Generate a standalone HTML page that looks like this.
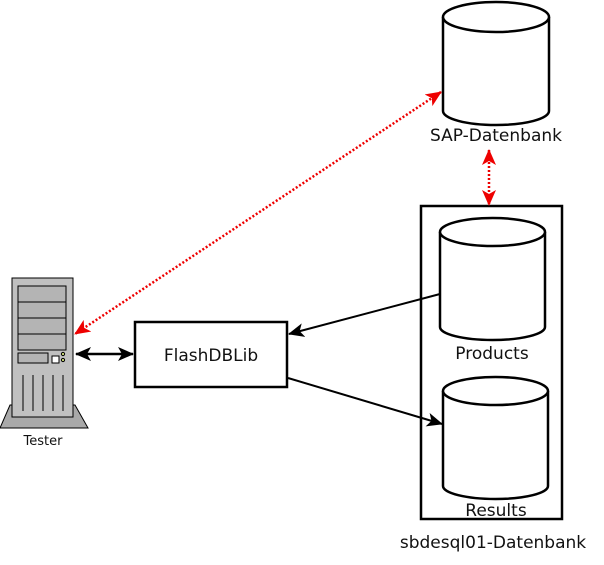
<!DOCTYPE html>
<html><head><style>html,body{margin:0;padding:0;background:#fff;width:604px;height:565px;overflow:hidden}</style></head>
<body>
<svg width="604" height="565" xmlns="http://www.w3.org/2000/svg" font-family="'DejaVu Sans', 'Liberation Sans', sans-serif">
<defs>
<marker id="ab" markerWidth="16" markerHeight="14" refX="15" refY="7" orient="auto" markerUnits="userSpaceOnUse"><path d="M0,0 L16,7 L0,14 L4,7 z" fill="#000"/></marker>
<marker id="abs" markerWidth="16" markerHeight="14" refX="1" refY="7" orient="auto" markerUnits="userSpaceOnUse"><path d="M16,0 L0,7 L16,14 L12,7 z" fill="#000"/></marker>
<marker id="ar" markerWidth="16" markerHeight="14" refX="15" refY="7" orient="auto" markerUnits="userSpaceOnUse"><path d="M0,0 L16,7 L0,14 L4,7 z" fill="#e00"/></marker>
<marker id="ars" markerWidth="16" markerHeight="14" refX="1" refY="7" orient="auto" markerUnits="userSpaceOnUse"><path d="M16,0 L0,7 L16,14 L12,7 z" fill="#e00"/></marker>
</defs>
<g fill="#fff" stroke="#000" stroke-width="2.5">
<path d="M443,17 L443,111 A53,14 0 0 0 549,111 L549,17"/>
<ellipse cx="496" cy="17" rx="53" ry="15"/>
<rect x="421" y="206" width="141" height="313"/>
<path d="M440,232 L440,327 A52.5,13 0 0 0 545,327 L545,232"/>
<ellipse cx="492.5" cy="232" rx="52.5" ry="14"/>
<path d="M443,391 L443,486 A52.5,13 0 0 0 548,486 L548,391"/>
<ellipse cx="495.5" cy="391" rx="52.5" ry="14"/>
<rect x="135" y="322" width="152" height="65"/>
</g>
<g stroke="#000" stroke-width="1">
<path d="M10,405 L75,405 L88,428 L0,428 Z" fill="#a9a9a9"/>
<rect x="12" y="278" width="61" height="139" fill="#c0c0c0"/>
<rect x="18" y="286" width="48" height="16" fill="#b4b4b4"/>
<rect x="18" y="302" width="48" height="16" fill="#b4b4b4"/>
<rect x="18" y="318" width="48" height="16" fill="#b4b4b4"/>
<rect x="18" y="334" width="48" height="16" fill="#b4b4b4"/>
<rect x="18" y="353" width="30" height="10" fill="#b4b4b4"/>
<rect x="52" y="356" width="7" height="7" fill="#fff"/>
<circle cx="63" cy="354" r="1.6" fill="#cfe07a"/>
<circle cx="63" cy="360" r="1.6" fill="#cfe07a"/>
<path d="M23,375V411M33,375V411M43,375V411M53,375V411M63,375V411"/>
</g>
<g stroke-width="2" fill="none">
<line x1="76" y1="354" x2="133" y2="354" stroke="#000" stroke-width="2.5" marker-start="url(#abs)" marker-end="url(#ab)"/>
<line x1="440" y1="294" x2="289" y2="334" stroke="#000" marker-end="url(#ab)"/>
<line x1="288" y1="378" x2="442" y2="424" stroke="#000" marker-end="url(#ab)"/>
<line x1="441" y1="92" x2="75" y2="334" stroke="#e00" stroke-width="2.5" stroke-dasharray="2,2" marker-start="url(#ars)" marker-end="url(#ar)"/>
<line x1="489" y1="150" x2="489" y2="205" stroke="#e00" stroke-width="2.5" stroke-dasharray="2,2" marker-start="url(#ars)" marker-end="url(#ar)"/>
</g>
<g fill="#111" text-anchor="middle">
<text x="496" y="141" font-size="17">SAP-Datenbank</text>
<text x="492" y="359" font-size="17">Products</text>
<text x="496" y="516" font-size="17">Results</text>
<text x="493" y="548" font-size="17">sbdesql01-Datenbank</text>
<text x="211" y="361" font-size="17">FlashDBLib</text>
<text x="43" y="445" font-size="13">Tester</text>
</g>
</svg>
</body></html>
